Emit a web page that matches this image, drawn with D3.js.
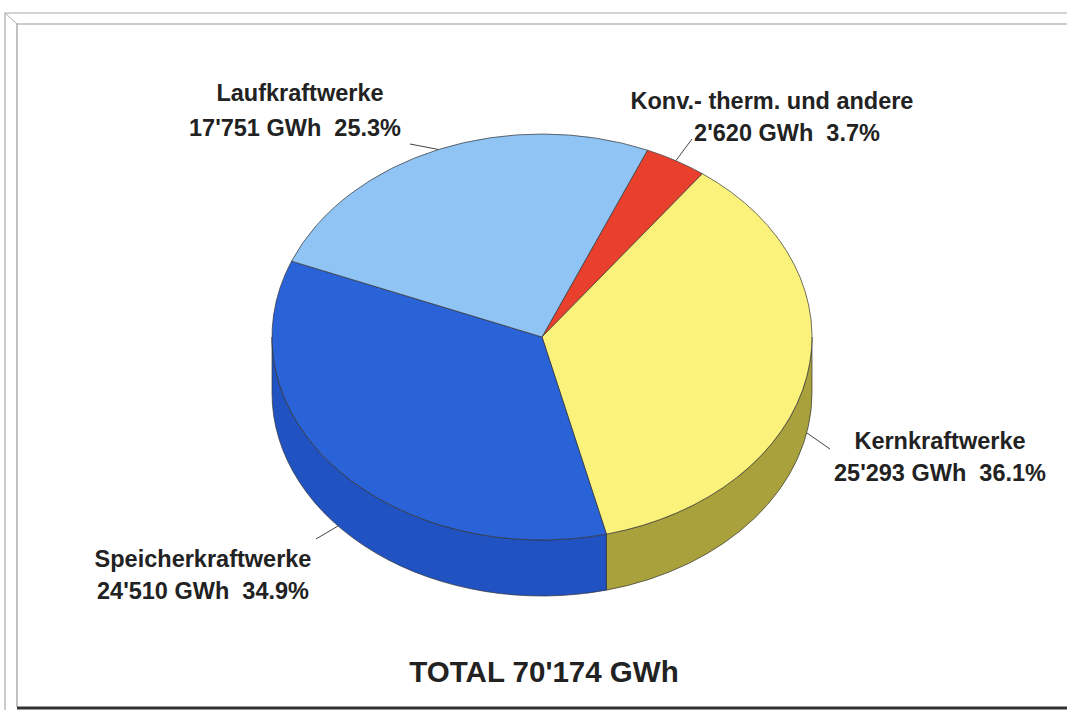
<!DOCTYPE html>
<html><head><meta charset="utf-8">
<script src="https://cdn.jsdelivr.net/npm/d3@7/dist/d3.min.js"></script>
<style>body{margin:0;background:#fff}svg{display:block}text{font-family:"Liberation Sans",Arial,sans-serif;font-weight:bold;fill:#222;white-space:pre}</style>
</head><body><svg id="c" width="1067" height="710"></svg>
<script>
const categories = ["Konv.- therm. und andere", "Kernkraftwerke", "Speicherkraftwerke", "Laufkraftwerke"];
const valuesGWh = [2620, 25293, 24510, 17751];
const percentLabels = ["3.7%", "36.1%", "34.9%", "25.3%"];
const valueLabels = ["2'620 GWh", "25'293 GWh", "24'510 GWh", "17'751 GWh"];
const totalLabel = "TOTAL 70'174 GWh";

const topColors = ["#e8402c", "#fbf27c", "#2a62d8", "#8fc4f4"];
const sideColors = ["#a82a1c", "#a9a23c", "#2152c2", "#5d8fc8"];

const svg = d3.select("#c");

// frame
const g0 = svg.append("g").attr("fill","none");
g0.append("path").attr("d","M5,710 V13 H1067").attr("stroke","#aaa").attr("stroke-width",1.2);
g0.append("path").attr("d","M17,707 V24 H1067").attr("stroke","#999").attr("stroke-width",1.2);
g0.append("path").attr("d","M5,13 L17,24").attr("stroke","#aaa").attr("stroke-width",1);
g0.append("line").attr("x1",17).attr("x2",1067).attr("y1",708).attr("y2",708).attr("stroke","#333").attr("stroke-width",3);

const cx = 542, cy = 337, rx = 270, ry = 203, depth = 56;
const startDeg = 23;
const pie = d3.pie().sort(null).value(d => d)
  .startAngle(startDeg * Math.PI/180).endAngle((startDeg + 360) * Math.PI/180);
const arcs = pie(valuesGWh);

const px = a => cx + rx * Math.sin(a);
const py = a => cy - ry * Math.cos(a);

function topPath(a0, a1) {
  const large = (a1 - a0) > Math.PI ? 1 : 0;
  return `M${cx},${cy}L${px(a0)},${py(a0)}A${rx},${ry} 0 ${large} 1 ${px(a1)},${py(a1)}Z`;
}
function sidePath(a0, a1) {
  const segs = [];
  for (let k = -1; k <= 1; k++) {
    const lo = Math.PI/2 + k*2*Math.PI, hi = 3*Math.PI/2 + k*2*Math.PI;
    const s = Math.max(a0, lo), e = Math.min(a1, hi);
    if (e > s) segs.push([s, e]);
  }
  return segs.map(([s, e]) => {
    const large = (e - s) > Math.PI ? 1 : 0;
    return `M${px(s)},${py(s)}A${rx},${ry} 0 ${large} 1 ${px(e)},${py(e)}` +
      `L${px(e)},${py(e)+depth}A${rx},${ry} 0 ${large} 0 ${px(s)},${py(s)+depth}Z`;
  }).join("");
}

const gs = svg.append("g");
gs.selectAll("path.side").data(arcs).join("path").attr("class","side")
  .attr("d", d => sidePath(d.startAngle, d.endAngle))
  .attr("fill", (d,i) => sideColors[i]).attr("stroke","#333").attr("stroke-width",0.7);
gs.selectAll("path.top").data(arcs).join("path").attr("class","top")
  .attr("d", d => topPath(d.startAngle, d.endAngle))
  .attr("fill", (d,i) => topColors[i]).attr("stroke","#333").attr("stroke-width",0.7);

// labels (layout positions)
const labelPos = [
  {x: 772, y1: 109, y2: 141, lx: 692, ly: 139, x2: 787},
  {x: 940, y1: 449, y2: 481, lx: 830, ly: 449, x2: 940},
  {x: 203, y1: 567, y2: 599, lx: 316, ly: 539, x2: 203},
  {x: 300, y1: 101, y2: 136, lx: 410, ly: 144, x2: 295}
];
const fs = 23.5;
arcs.forEach((d, i) => {
  const m = (d.startAngle + d.endAngle)/2;
  const ex = px(m), ey = py(m) + (Math.cos(m) < 0 ? depth : 0);
  const L = labelPos[i];
  svg.append("line").attr("x1", L.lx).attr("y1", L.ly).attr("x2", ex).attr("y2", ey)
    .attr("stroke","#444").attr("stroke-width",1);
  svg.append("text").attr("x", L.x).attr("y", L.y1).attr("text-anchor","middle")
    .attr("font-size", fs).text(categories[i]);
  svg.append("text").attr("x", L.x2).attr("y", L.y2).attr("text-anchor","middle")
    .attr("font-size", fs).text(valueLabels[i] + "  " + percentLabels[i]);
});

svg.append("text").attr("x", 544).attr("y", 682).attr("text-anchor","middle")
  .attr("font-size", 29.5).text(totalLabel);
</script></body></html>
